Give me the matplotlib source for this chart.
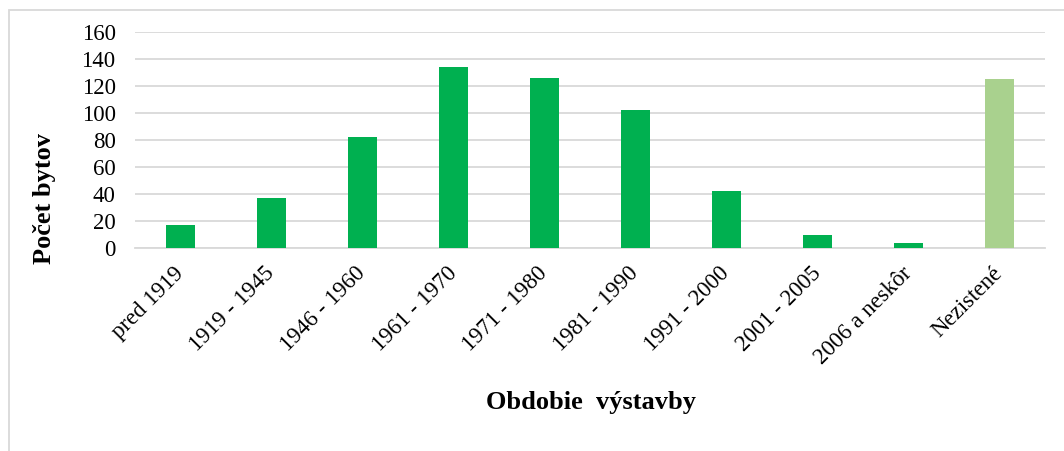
import numpy as np
import matplotlib
matplotlib.use('Agg')
import matplotlib.pyplot as plt
from matplotlib.patches import Rectangle

periods = ['pred 1919', '1919 - 1945', '1946 - 1960', '1961 - 1970', '1971 - 1980',
           '1981 - 1990', '1991 - 2000', '2001 - 2005', '2006 a neskôr', 'Nezistené']
flats = [17, 37, 82, 134, 126, 102, 42, 10, 4, 125]
colors = ['#00B050'] * 9 + ['#A9D18E']
y_ticks = [0, 20, 40, 60, 80, 100, 120, 140, 160]

plt.rcParams['font.family'] = ['Liberation Serif', 'DejaVu Serif']

fig = plt.figure(figsize=(10.64, 4.51), dpi=100)
W, H = 1064, 451

# outer chart frame (only left and top edges visible in the crop)
fig.patches.append(Rectangle((9 / W, -0.1), 1.2, 1 - 10 / H + 0.1, transform=fig.transFigure,
                             fill=False, edgecolor='#D9D9D9', linewidth=1.3))

ax = fig.add_axes([135 / W, 1 - 248.3 / H, (1045 - 135) / W, (248.3 - 31.7) / H])
x = np.arange(len(periods))
ax.bar(x, flats, width=0.32, color=colors, zorder=3)

ax.set_xlim(-0.5, len(periods) - 0.5)
ax.set_ylim(0, 160)
ax.set_yticks(y_ticks)
ax.set_yticklabels([str(v) for v in y_ticks], fontsize=16.5)
ax.yaxis.grid(True, color='#D9D9D9', linewidth=1.3, zorder=0)
ax.set_axisbelow(True)

for s in ['top', 'right', 'left']:
    ax.spines[s].set_visible(False)
ax.spines['bottom'].set_color('#D9D9D9')
ax.spines['bottom'].set_linewidth(1.3)
ax.tick_params(axis='both', length=0)
ax.tick_params(axis='y', pad=14)

ax.set_xticks(x)
ax.set_xticklabels(periods, fontsize=16.5, rotation=45, ha='right', va='center',
                   rotation_mode='anchor')
ax.tick_params(axis='x', pad=16)

fig.text(591 / W, 1 - 403 / H, 'Obdobie  výstavby', fontsize=19, fontweight='bold',
         ha='center', va='center')
fig.text(45 / W, 1 - 198 / H, 'Počet bytov', fontsize=19, fontweight='bold',
         ha='center', va='center', rotation=90)

fig.savefig('out.png', dpi=100)
